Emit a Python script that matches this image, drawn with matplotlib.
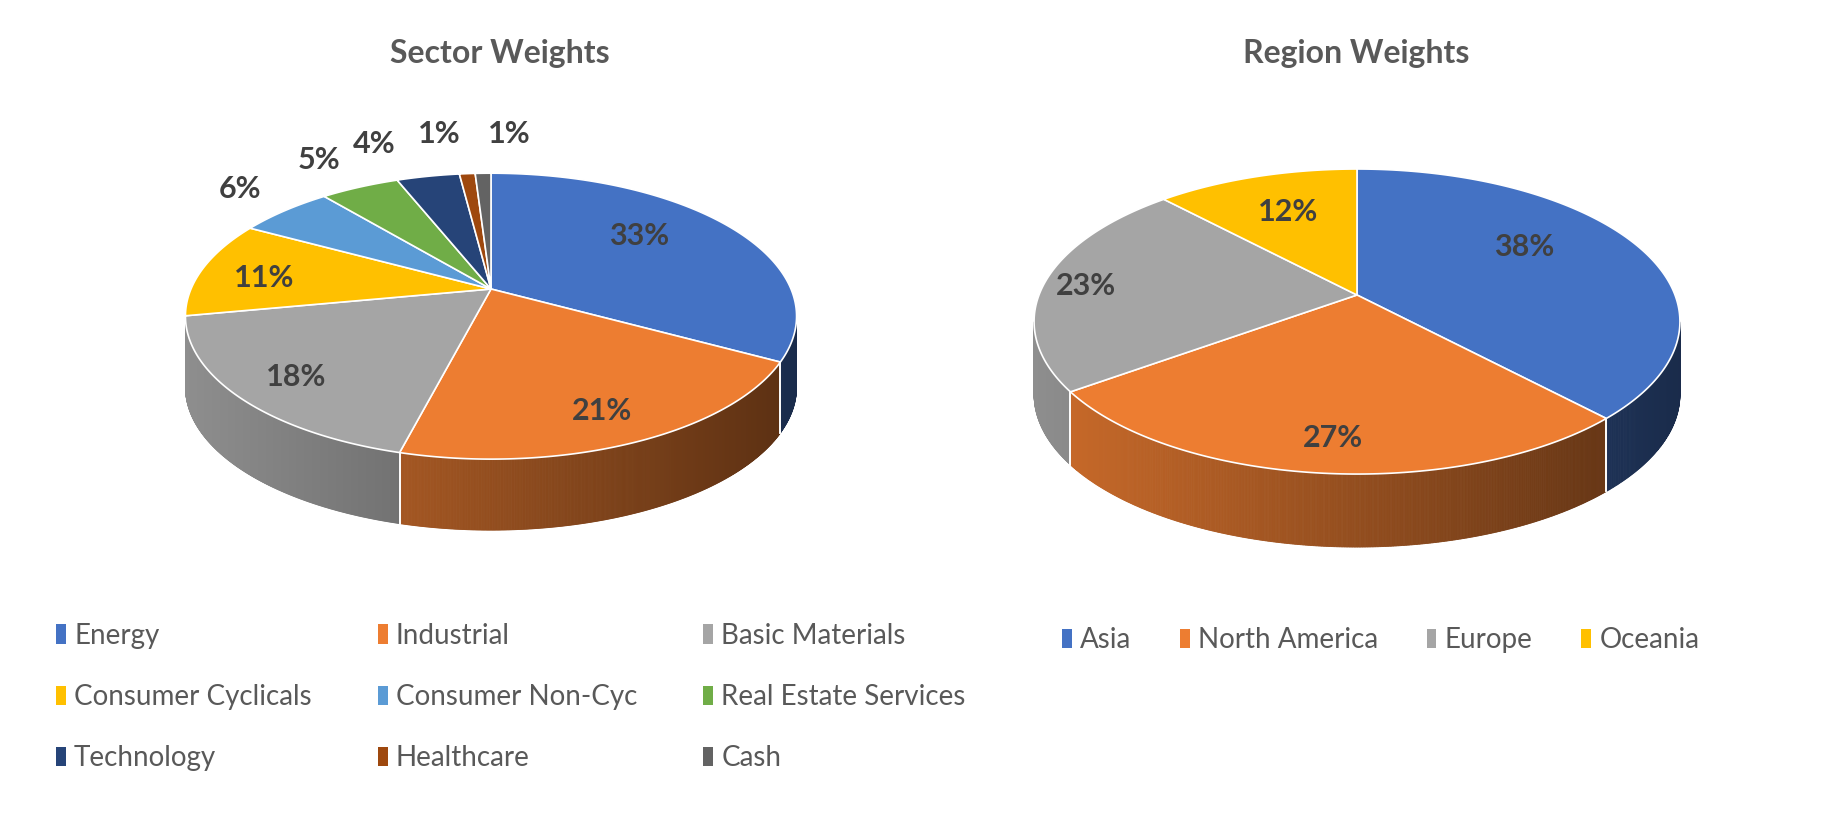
import numpy as np
import matplotlib
matplotlib.use("Agg")
import matplotlib.pyplot as plt
from matplotlib.patches import Polygon, Patch
from matplotlib.colors import to_rgb

plt.rcParams['font.family'] = ['Lato', 'DejaVu Sans']

# ---------------- data ----------------
sector_names = ["Energy", "Industrial", "Basic Materials", "Consumer Cyclicals",
                "Consumer Non-Cyc", "Real Estate Services", "Technology",
                "Healthcare", "Cash"]
sector_values = [33, 21, 18, 11, 6, 5, 4, 1, 1]
sector_colors = ["#4472C4", "#ED7D31", "#A5A5A5", "#FFC000", "#5B9BD5",
                 "#70AD47", "#264478", "#9E480E", "#636363"]

region_names = ["Asia", "North America", "Europe", "Oceania"]
region_values = [38, 27, 23, 12]
region_colors = ["#4472C4", "#ED7D31", "#A5A5A5", "#FFC000"]

# label placement styles (radius factor, pixel nudges)
sector_label_r = [0.68, 0.8, 0.8, 0.8, 1.32, 1.32, 1.32, 1.32, 1.32]
sector_label_dx = [-17, 0, 0, 5, 12, -6, -38, -22, 28]
sector_label_dy = [-8, 4, 4, 6, 0, 0, -3, -10, -10]
region_label_r = [0.7, 0.8, 0.85, 0.65]
region_label_dx = [-31, 4, -6, 0]
region_label_dy = [-12, 6, 3, -2]

W, H = 1831, 818
fig = plt.figure(figsize=(W / 100, H / 100), dpi=100)
ax = fig.add_axes([0, 0, 1, 1])
ax.set_xlim(0, W)
ax.set_ylim(H, 0)
ax.axis('off')

TXT = "#404040"
TITLE = "#595959"


def shade(color, f):
    r, g, b = to_rgb(color)
    return (r * f, g * f, b * f)


def draw_pie3d(values, colors, cx, cy, sx, q, p, depth, lab_r, lab_dx, lab_dy):
    vals = np.asarray(values, dtype=float)
    frac = vals / vals.sum()
    cum = np.concatenate([[0], np.cumsum(frac)])
    a_start = np.deg2rad(90 - 360 * cum[:-1])
    a_end = np.deg2rad(90 - 360 * cum[1:])
    rx = sx / np.sqrt(1 - p * p)

    def proj(r, a):
        X = r * np.cos(a)
        Y = r * np.sin(a)
        w = 1 + p * Y
        return cx + sx * X / w, cy - q * Y / w

    # side walls (front, visible part)
    for i in range(len(vals)):
        a = np.linspace(a_start[i], a_end[i], 400)
        vis = np.sin(a) < -p
        if not vis.any():
            continue
        av = a[vis]
        u, v = proj(1.0, av)
        for k in range(len(av) - 1):
            un = ((u[k] + u[k + 1]) / 2 - cx) / rx
            f = 0.62 - 0.24 * un
            c = shade(colors[i], f)
            poly = [(u[k], v[k]), (u[k + 1], v[k + 1]),
                    (u[k + 1], v[k + 1] + depth), (u[k], v[k] + depth)]
            ax.add_patch(Polygon(poly, closed=True, facecolor=c, edgecolor=c,
                                 linewidth=0.6, zorder=1))
        # white separators at wedge boundaries
        for ab in (a_start[i], a_end[i]):
            if np.sin(ab) < -p:
                ub, vb = proj(1.0, ab)
                ax.plot([ub, ub], [vb, vb + depth], color="white", lw=1.2, zorder=2)

    # top faces
    for i in range(len(vals)):
        a = np.linspace(a_start[i], a_end[i], 200)
        u, v = proj(1.0, a)
        ox, oy = proj(0.0, 0.0)
        pts = np.column_stack([np.concatenate([[ox], u]), np.concatenate([[oy], v])])
        ax.add_patch(Polygon(pts, closed=True, facecolor=colors[i],
                             edgecolor="white", linewidth=1.2, zorder=3))

    # labels
    for i in range(len(vals)):
        am = (a_start[i] + a_end[i]) / 2
        lx, ly = proj(lab_r[i], am)
        ax.text(lx + lab_dx[i], ly + lab_dy[i], f"{values[i]:.0f}%",
                ha="center", va="center", fontsize=22, fontweight="bold",
                color=TXT, zorder=5)


draw_pie3d(sector_values, sector_colors, 491, 289, 300, 137.8, 0.19, 71,
           sector_label_r, sector_label_dx, sector_label_dy)
draw_pie3d(region_values, region_colors, 1357, 295, 318, 147.9, 0.174, 73,
           region_label_r, region_label_dx, region_label_dy)

ax.text(500, 53, "Sector Weights", ha="center", va="center", fontsize=23,
        fontweight="bold", color=TITLE)
ax.text(1356, 53, "Region Weights", ha="center", va="center", fontsize=23,
        fontweight="bold", color=TITLE)

# legends
order = [0, 3, 6, 1, 4, 7, 2, 5, 8]
s_handles = [Patch(facecolor=sector_colors[i], edgecolor="none") for i in order]
s_labels = [sector_names[i] for i in order]
leg1 = fig.legend(s_handles, s_labels, ncol=3, loc="center left",
                  bbox_to_anchor=(56 / W, 1 - 697 / H), frameon=False,
                  borderaxespad=0, borderpad=0,
                  fontsize=20, handlelength=0.35, handleheight=0.7,
                  handletextpad=0.3, columnspacing=2.38, labelspacing=1.27,
                  labelcolor=TITLE)

r_handles = [Patch(facecolor=c, edgecolor="none") for c in region_colors]
leg2 = fig.legend(r_handles, region_names, ncol=4, loc="center left",
                  bbox_to_anchor=(1062 / W, 1 - 640 / H), frameon=False,
                  borderaxespad=0, borderpad=0,
                  fontsize=20, handlelength=0.35, handleheight=0.7,
                  handletextpad=0.3, columnspacing=1.75, labelcolor=TITLE)

fig.savefig("out.png", dpi=100, facecolor="white")
